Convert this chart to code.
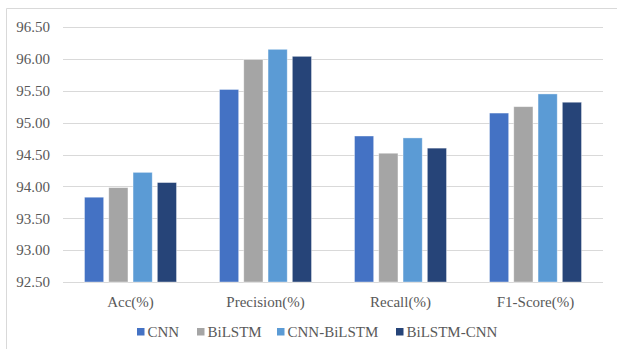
<!DOCTYPE html>
<html>
<head>
<meta charset="utf-8">
<script src="https://cdn.jsdelivr.net/npm/d3@7"></script>
<style>
  body { margin: 0; background: #fff; }
</style>
</head>
<body>
<div id="chart"></div>
<script>
const categories = ["Acc(%)", "Precision(%)", "Recall(%)", "F1-Score(%)"];
const seriesNames = ["CNN", "BiLSTM", "CNN-BiLSTM", "BiLSTM-CNN"];
const cnnValues = [93.83, 95.52, 94.79, 95.15];
const bilstmValues = [93.98, 95.99, 94.52, 95.25];
const cnnBilstmValues = [94.22, 96.15, 94.76, 95.45];
const bilstmCnnValues = [94.06, 96.04, 94.60, 95.32];
const yTicks = [92.5, 93.0, 93.5, 94.0, 94.5, 95.0, 95.5, 96.0, 96.5];
const colors = ["#4472C4", "#A5A5A5", "#5B9BD5", "#264478"];

const seriesValues = [cnnValues, bilstmValues, cnnBilstmValues, bilstmCnnValues];
const fontFamily = "'Liberation Serif', 'DejaVu Serif', serif";

const width = 617, height = 349;
const margin = { top: 27, right: 14, bottom: 67, left: 63 };

const svg = d3
  .select("#chart")
  .append("svg")
  .attr("width", width)
  .attr("height", height)
  .attr("font-family", fontFamily)
  .style("font-family", fontFamily);

// frame (only top and left edges are visible in the picture)
svg.append("path")
  .attr("d", `M6.5,${height} V8.5 H${width}`)
  .attr("fill", "none")
  .attr("stroke", "#d9d9d9")
  .attr("stroke-width", 1);

const x0 = d3
  .scaleBand()
  .domain(categories)
  .range([margin.left, width - margin.right]);

const x1 = d3
  .scaleBand()
  .domain(seriesNames)
  .range([21.5, x0.bandwidth() - 21.5])
  .paddingInner(0.21);

const y = d3
  .scaleLinear()
  .domain([92.5, 96.5])
  .range([height - margin.bottom, margin.top]);

// gridlines
svg.append("g")
  .selectAll("line")
  .data(yTicks)
  .enter()
  .append("line")
  .attr("x1", margin.left)
  .attr("x2", width - margin.right)
  .attr("y1", (d) => Math.round(y(d)) + 0.5)
  .attr("y2", (d) => Math.round(y(d)) + 0.5)
  .attr("stroke", "#d9d9d9")
  .attr("stroke-width", 1);

// y tick labels
svg.append("g")
  .selectAll("text")
  .data(yTicks)
  .enter()
  .append("text")
  .attr("x", 50)
  .attr("y", (d) => y(d))
  .attr("dy", "0.35em")
  .attr("text-anchor", "end")
  .attr("fill", "#595959")
  .style("font-size", "15px")
  .text((d) => d.toFixed(2));

// bars
const groups = svg.append("g")
  .selectAll("g")
  .data(categories)
  .enter()
  .append("g")
  .attr("transform", (d) => `translate(${x0(d)},0)`);

groups
  .selectAll("rect")
  .data((d, ci) => seriesNames.map((s, si) => ({ s, si, v: seriesValues[si][ci] })))
  .enter()
  .append("rect")
  .attr("x", (d) => x1(d.s))
  .attr("width", x1.bandwidth())
  .attr("y", (d) => y(d.v))
  .attr("height", (d) => y(92.5) - y(d.v))
  .attr("fill", (d) => colors[d.si])
  .attr("stroke", "#ffffff")
  .attr("stroke-opacity", 0.5)
  .attr("stroke-width", 0.75);

// category labels
svg.append("g")
  .selectAll("text")
  .data(categories)
  .enter()
  .append("text")
  .attr("x", (d) => x0(d) + x0.bandwidth() / 2)
  .attr("y", 307)
  .attr("text-anchor", "middle")
  .attr("fill", "#595959")
  .style("font-size", "15px")
  .text((d) => d);

// legend
const legendX = [137, 197, 277, 396];
const legend = svg.append("g")
  .selectAll("g")
  .data(seriesNames)
  .enter()
  .append("g")
  .attr("transform", (d, i) => `translate(${legendX[i]},332)`);

legend
  .append("rect")
  .attr("x", 0)
  .attr("y", -4)
  .attr("width", 7.5)
  .attr("height", 7.5)
  .attr("fill", (d, i) => colors[i]);

legend
  .append("text")
  .attr("x", 10.5)
  .attr("y", 0)
  .attr("dy", "0.35em")
  .attr("fill", "#595959")
  .style("font-size", "15px")
  .text((d) => d);
</script>
</body>
</html>
